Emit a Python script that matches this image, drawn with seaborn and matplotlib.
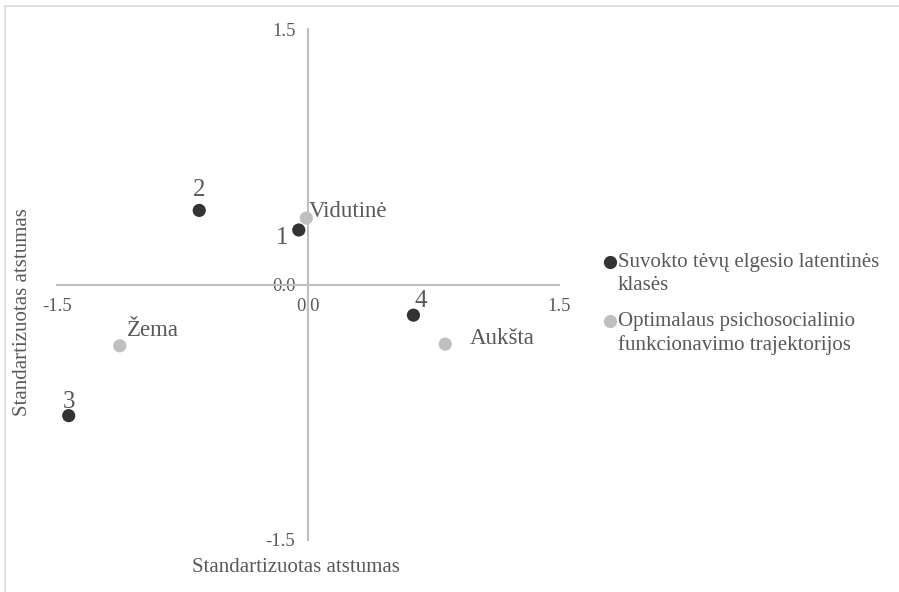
import numpy as np
import pandas as pd
import matplotlib
matplotlib.use("Agg")
import matplotlib.pyplot as plt
import seaborn as sns
from matplotlib.lines import Line2D

# --- data ---
classes = ["1", "2", "3", "4"]
class_x = [-0.055, -0.65, -1.43, 0.63]
class_y = [0.32, 0.435, -0.77, -0.18]

traj = ["Vidutinė", "Žema", "Aukšta"]
traj_x = [-0.01, -1.125, 0.82]
traj_y = [0.39, -0.36, -0.35]

group_names = ["Suvokto tėvų elgesio latentinės\nklasės",
               "Optimalaus psichosocialinio\nfunkcionavimo trajektorijos"]
ticks = [-1.5, 0.0, 1.5]

df = pd.DataFrame({
    "x": class_x + traj_x,
    "y": class_y + traj_y,
    "label": classes + traj,
    "group": [group_names[0]] * len(classes) + [group_names[1]] * len(traj),
})

sns.set_style("white")
plt.rcParams["font.family"] = ["Liberation Serif", "DejaVu Serif"]
txt = "#595959"
axc = "#bfbfbf"

fig = plt.figure(figsize=(8.99, 5.92), dpi=100)
ax = fig.add_axes([57 / 899, 52 / 592, 502 / 899, 511 / 592])

palette = {group_names[0]: "#333333", group_names[1]: "#bfbfbf"}
sns.scatterplot(data=df, x="x", y="y", hue="group", palette=palette,
                s=90, edgecolor="none", ax=ax, legend=False, zorder=3)

ax.set_xlim(-1.5, 1.5)
ax.set_ylim(-1.5, 1.5)
for side in ["top", "right"]:
    ax.spines[side].set_visible(False)
for side in ["left", "bottom"]:
    ax.spines[side].set_position(("data", 0))
    ax.spines[side].set_color(axc)
    ax.spines[side].set_linewidth(1.5)
ax.set_xticks(ticks)
ax.set_yticks(ticks)
ax.set_xticklabels([f"{t:.1f}" for t in ticks])
ax.set_yticklabels([f"{t:.1f}" for t in ticks])
ax.tick_params(length=0, labelsize=13.5, labelcolor=txt)
ax.tick_params(axis="x", pad=10)
ax.tick_params(axis="y", pad=9)

ax.set_xlabel("Standartizuotas atstumas", fontsize=15, color=txt)
ax.set_ylabel("Standartizuotas atstumas", fontsize=15, color=txt)
ax.xaxis.set_label_coords(0.476, -0.036)
ax.yaxis.set_label_coords(-0.05, 0.446)

# point labels
offsets = {"1": (-12, -6, "center"), "2": (0, 15, "center"), "3": (0, 10, "center"),
           "4": (5, 10, "center"), "Vidutinė": (2, 5, "left"),
           "Žema": (5, 11, "left"), "Aukšta": (18, 4, "left")}
for _, r in df.iterrows():
    dx, dy, ha = offsets[r["label"]]
    size = 18 if r["label"] in classes else 16.5
    ax.annotate(r["label"], (r["x"], r["y"]), xytext=(dx, dy),
                textcoords="offset points", ha=ha, va="center",
                fontsize=size, color=txt)

# legend (marker aligned with first text line, like the original)
leg_x, leg_y = 610, [262, 321]
for g, yy in zip(group_names, leg_y):
    fig.add_artist(Line2D([leg_x / 899], [1 - yy / 592], marker="o", linestyle="none",
                          markersize=9.5, markerfacecolor=palette[g],
                          markeredgecolor="none"))
    fig.text(618 / 899, 1 - (yy - 9) / 592, g, ha="left", va="top",
             fontsize=15, color=txt, linespacing=1.25)

# outer chart border (top and left edges visible)
fig.add_artist(Line2D([5 / 899, 1], [1 - 6 / 592, 1 - 6 / 592], color="#d9d9d9", lw=1.2))
fig.add_artist(Line2D([5 / 899, 5 / 899], [0, 1 - 6 / 592], color="#d9d9d9", lw=1.2))

fig.savefig("out.png", dpi=100)
